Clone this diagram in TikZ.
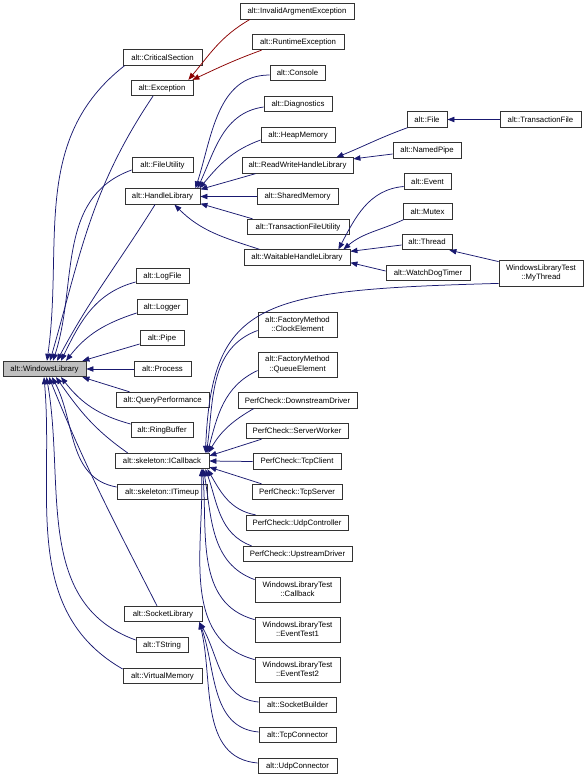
\documentclass[tikz,border=0pt]{standalone}
\usepackage{fontspec}
\setmainfont{Liberation Sans}
\usetikzlibrary{arrows.meta}
\definecolor{navy}{HTML}{191970}
\definecolor{dred}{HTML}{8B0000}
\definecolor{boxline}{HTML}{333333}
\begin{document}
\begin{tikzpicture}[x=1pt,y=1pt,
  box/.style={draw=boxline, line width=0.8pt, fill=white, inner xsep=1pt, inner ysep=1pt,
    minimum height=15.5pt, font=\fontsize{7.8}{9.2}\selectfont, align=center},
  dbox/.style={box, minimum height=25pt},
  e/.style={draw=navy, line width=0.75pt, -{Triangle[length=7pt,width=5.4pt,fill=navy]}},
  er/.style={draw=dred, line width=0.75pt, -{Triangle[length=7pt,width=5.4pt,fill=dred]}}]
\useasboundingbox (0,0) rectangle (586,-778);
% left column
\node[box, fill=black!25, minimum width=83pt] (WL) at (44.5,-369) {alt::WindowsLibrary};
% second column
\node[box, minimum width=79pt] (CS) at (162.5,-57.5) {alt::CriticalSection};
\node[box, minimum width=62pt] (EX) at (162,-88) {alt::Exception};
\node[box, minimum width=61pt] (FU) at (162.5,-165) {alt::FileUtility};
\node[box, minimum width=75pt] (HL) at (162.5,-196.5) {alt::HandleLibrary};
\node[box, minimum width=53pt] (LF) at (162.5,-276) {alt::LogFile};
\node[box, minimum width=50pt] (LG) at (162,-307) {alt::Logger};
\node[box, minimum width=44pt] (PI) at (162,-338) {alt::Pipe};
\node[box, minimum width=57pt] (PR) at (162.5,-369) {alt::Process};
\node[box, minimum width=93pt] (QP) at (162.5,-400) {alt::QueryPerformance};
\node[box, minimum width=62pt] (RB) at (162,-430) {alt::RingBuffer};
\node[box, minimum width=94pt] (ICB) at (162,-461) {alt::skeleton::ICallback};
\node[box, minimum width=90pt] (ITU) at (162,-492) {alt::skeleton::ITimeup};
\node[box, minimum width=78pt] (SL) at (163,-614) {alt::SocketLibrary};
\node[box, minimum width=52pt] (TSt) at (162,-645) {alt::TString};
\node[box, minimum width=79pt] (VM) at (162.5,-676) {alt::VirtualMemory};
% third column
\node[box, minimum width=114pt] (IAE) at (297,-11.5) {alt::InvalidArgmentException};
\node[box, minimum width=92pt] (RTE) at (298,-42) {alt::RuntimeException};
\node[box, minimum width=55pt] (CON) at (297.5,-73) {alt::Console};
\node[box, minimum width=68pt] (DIA) at (298,-104) {alt::Diagnostics};
\node[box, minimum width=74pt] (HM) at (298,-135) {alt::HeapMemory};
\node[box, minimum width=111pt] (RW) at (297.5,-165.5) {alt::ReadWriteHandleLibrary};
\node[box, minimum width=81pt] (SM) at (297.5,-196.5) {alt::SharedMemory};
\node[box, minimum width=102pt] (TFU) at (298,-227) {alt::TransactionFileUtility};
\node[box, minimum width=106pt] (WH) at (297,-257.5) {alt::WaitableHandleLibrary};
\node[dbox, minimum width=79pt] (CE) at (297.5,-324.5) {alt::FactoryMethod\\::ClockElement};
\node[dbox, minimum width=79pt] (QE) at (297.5,-364.5) {alt::FactoryMethod\\::QueueElement};
\node[box, minimum width=119pt] (DD) at (297.5,-400.5) {PerfCheck::DownstreamDriver};
\node[box, minimum width=102pt] (SW) at (297,-431) {PerfCheck::ServerWorker};
\node[box, minimum width=88pt] (TC) at (297,-461.5) {PerfCheck::TcpClient};
\node[box, minimum width=90pt] (TSv) at (297,-492) {PerfCheck::TcpServer};
\node[box, minimum width=102pt] (UC) at (297,-523) {PerfCheck::UdpController};
\node[box, minimum width=109pt] (UD) at (297.5,-554) {PerfCheck::UpstreamDriver};
\node[dbox, minimum width=85pt] (CB) at (297.5,-589.5) {WindowsLibraryTest\\::Callback};
\node[dbox, minimum width=85pt] (ET1) at (297.5,-629.5) {WindowsLibraryTest\\::EventTest1};
\node[dbox, minimum width=85pt] (ET2) at (297.5,-669.5) {WindowsLibraryTest\\::EventTest2};
\node[box, minimum width=77pt] (SB) at (297.5,-705) {alt::SocketBuilder};
\node[box, minimum width=77pt] (TCn) at (297.5,-735) {alt::TcpConnector};
\node[box, minimum width=79pt] (UCn) at (297.5,-766) {alt::UdpConnector};
% fourth column
\node[box, minimum width=40pt] (FI) at (427,-119.5) {alt::File};
\node[box, minimum width=68pt] (NP) at (427,-150.5) {alt::NamedPipe};
\node[box, minimum width=47pt] (EV) at (427.5,-181.5) {alt::Event};
\node[box, minimum width=49pt] (MU) at (427.5,-211.5) {alt::Mutex};
\node[box, minimum width=50pt] (TH) at (427,-242) {alt::Thread};
\node[box, minimum width=84pt] (WD) at (428,-273) {alt::WatchDogTimer};
% fifth column
\node[box, minimum width=81pt] (TF) at (540.5,-119.5) {alt::TransactionFile};
\node[dbox, minimum width=84pt, minimum height=26pt] (MT) at (541,-273) {WindowsLibraryTest\\::MyThread};

% edges to WindowsLibrary
\draw[e] ([xshift=2pt]CS.south west) to[out=218,in=82] ([xshift=2.5pt]WL.north);
\draw[e] ([xshift=-9pt]EX.south) to[out=236,in=74] ([xshift=5.5pt]WL.north);
\draw[e] ([yshift=-5pt]FU.west) to[out=200,in=72] ([xshift=8.5pt]WL.north);
\draw[e] ([xshift=-7.5pt]HL.south) to[out=238,in=62] ([xshift=12.5pt]WL.north);
\draw[e] ([yshift=-6pt]LF.west) to[out=195,in=64] ([xshift=16.5pt]WL.north);
\draw[e] ([yshift=-6pt]LG.west) to[out=198,in=52] ([xshift=21.5pt]WL.north);
\draw[e] ([yshift=-6pt]PI.west) -- ([xshift=-4pt]WL.north east);
\draw[e] (PR.west) -- (WL.east);
\draw[e] ([xshift=14pt]QP.north west) -- ([xshift=-4pt]WL.south east);
\draw[e] ([yshift=6pt]RB.west) to[out=165,in=-52] ([xshift=16.5pt]WL.south);
\draw[e] ([xshift=13pt]ICB.north west) to[out=145,in=-55] ([xshift=11.5pt]WL.south);
\draw[e] ([yshift=5pt]ITU.west) to[out=170,in=-62] ([xshift=7.5pt]WL.south);
\draw[e] ([xshift=-6pt]SL.north) to[out=117,in=-68] ([xshift=4.5pt]WL.south);
\draw[e] ([yshift=5pt]TSt.west) to[out=160,in=-80] ([xshift=2pt]WL.south);
\draw[e] ([yshift=7pt]VM.west) to[out=150,in=-85] ([xshift=-0.5pt]WL.south);
% Exception
\draw[er] ([xshift=10pt]IAE.south west) to[out=210,in=50] ([xshift=-5pt]EX.north east);
\draw[er] ([xshift=10pt]RTE.south west) to[out=200,in=25] ([xshift=-1pt]EX.north east);
% HandleLibrary
\draw[e] ([yshift=-2pt]CON.west) to[out=180,in=72] ([xshift=-5pt]HL.north east);
\draw[e] ([yshift=-3pt]DIA.west) to[out=188,in=65] ([xshift=-3pt]HL.north east);
\draw[e] ([yshift=-5pt]HM.west) to[out=200,in=50] ([xshift=-1pt]HL.north east);
\draw[e] ([xshift=14pt]RW.south west) -- ([yshift=-1pt]HL.north east);
\draw[e] (SM.west) -- (HL.east);
\draw[e] ([xshift=6pt]TFU.north west) -- ([yshift=1pt]HL.south east);
\draw[e] ([xshift=16pt]WH.north west) to[out=162,in=-45] ([xshift=12pt]HL.south);
% ReadWriteHandleLibrary
\draw[e] ([xshift=1pt]FI.south west) to[out=200,in=22] ([xshift=-17pt]RW.north east);
\draw[e] ([yshift=-3.5pt]NP.west) -- ([yshift=-1.5pt]RW.north east);
\draw[e] (TF.west) -- (FI.east);
% WaitableHandleLibrary
\draw[e] ([yshift=-5pt]EV.west) to[out=185,in=62] ([xshift=-12pt]WH.north east);
\draw[e] ([xshift=1pt]MU.south west) to[out=205,in=40] ([xshift=-7pt]WH.north east);
\draw[e] ([yshift=-3pt]TH.west) -- ([yshift=-2pt]WH.north east);
\draw[e] ([yshift=2pt]WD.west) -- ([yshift=3pt]WH.south east);
\draw[e] ([yshift=-2pt]MT.north west) -- ([xshift=-3pt]TH.south east);
% ICallback
\draw[e] ([yshift=3pt]MT.south west) .. controls (260,-290) and (212,-300) .. ([xshift=-4pt]ICB.north east);
\draw[e] ([yshift=-6pt]CE.west) to[out=200,in=82] ([xshift=-3pt]ICB.north east);
\draw[e] ([yshift=-6pt]QE.west) to[out=205,in=75] ([xshift=-2pt]ICB.north east);
\draw[e] ([xshift=16pt]DD.south west) to[out=210,in=60] ([xshift=-1pt]ICB.north east);
\draw[e] ([xshift=16pt]SW.south west) -- ([yshift=-3pt]ICB.north east);
\draw[e] (TC.west) -- (ICB.east);
\draw[e] ([xshift=10pt]TSv.north west) -- ([yshift=2pt]ICB.south east);
\draw[e] ([xshift=10pt]UC.north west) to[out=170,in=-60] ([xshift=-2pt]ICB.south east);
\draw[e] ([xshift=9pt]UD.north west) to[out=160,in=-70] ([xshift=-4pt]ICB.south east);
\draw[e] ([yshift=-3pt]CB.north west) to[out=160,in=-80] ([xshift=-6pt]ICB.south east);
\draw[e] ([yshift=-3pt]ET1.north west) to[out=165,in=-85] ([xshift=-7pt]ICB.south east);
\draw[e] ([yshift=-3pt]ET2.north west) to[out=165,in=-88] ([xshift=-8pt]ICB.south east);
% SocketLibrary
\draw[e] ([yshift=3pt]SB.west) to[out=175,in=-60] ([xshift=-3pt]SL.south east);
\draw[e] ([yshift=3pt]TCn.west) to[out=175,in=-70] ([xshift=-3pt]SL.south east);
\draw[e] ([yshift=3pt]UCn.west) to[out=175,in=-76] ([xshift=-3pt]SL.south east);
\end{tikzpicture}
\end{document}
